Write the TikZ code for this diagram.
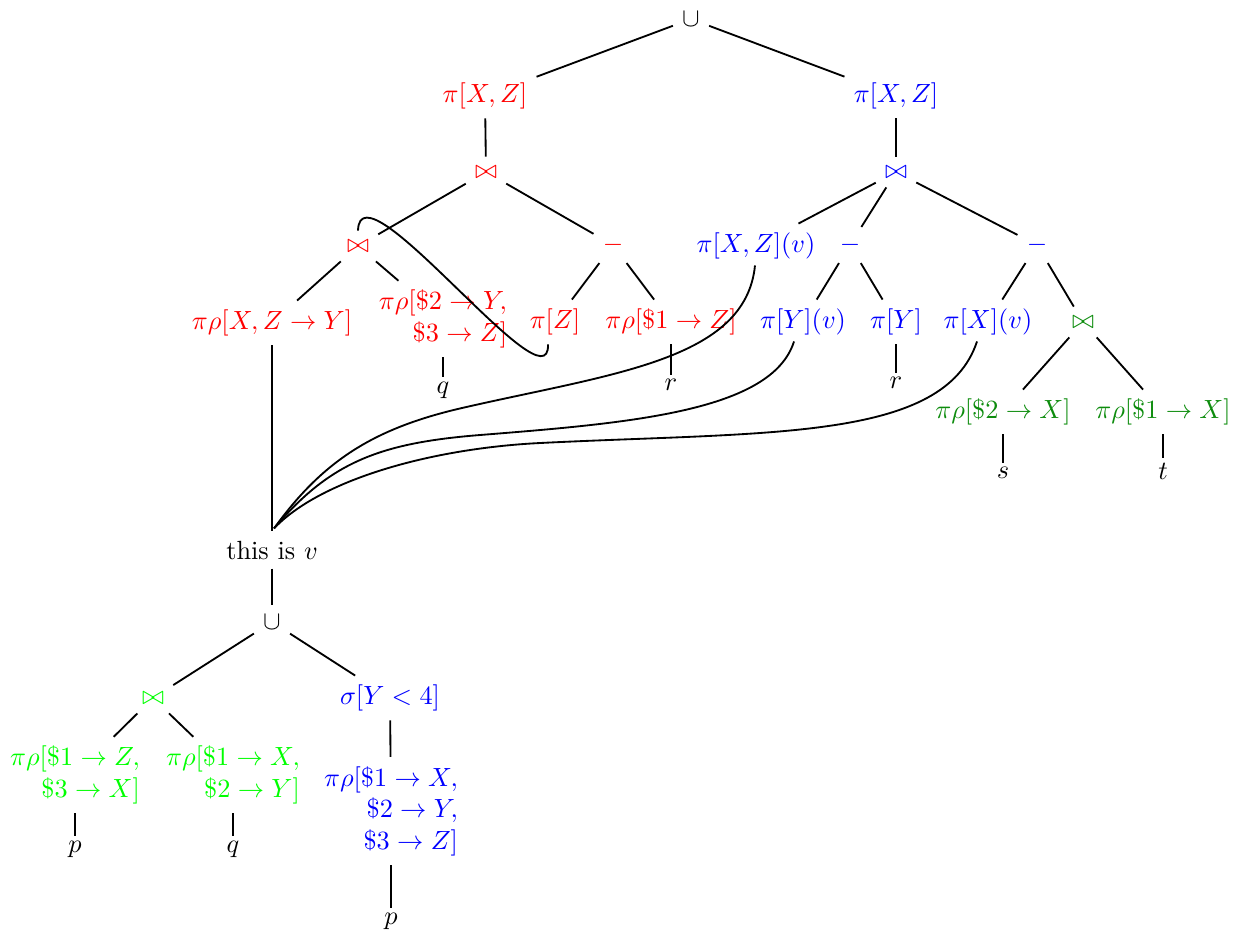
\documentclass[tikz,border=0pt]{standalone}
\usetikzlibrary{calc}
\definecolor{dkgreen}{rgb}{0.05,0.55,0.05}
\begin{document}
\begin{tikzpicture}[x=0.38pt,y=-0.38pt,
  edge/.style={line width=0.7pt},
  rd/.style={text=red}, bl/.style={text=blue}, gr/.style={text=green}, dg/.style={text=dkgreen},
  leaf/.style={inner ysep=1.5pt},
  multi/.style={align=right}]
\useasboundingbox (0,0) rectangle (1245,936);
% top tree
\node (U0) at (691,19) {$\cup$};
\node[rd] (A) at (485,96) {$\pi[X,Z]$};
\node[bl] (B) at (896,96) {$\pi[X,Z]$};
\node[rd] (A1) at (486,172) {$\bowtie$};
\node[bl] (B1) at (896,172) {$\bowtie$};
\node[rd] (A11) at (358,246) {$\bowtie$};
\node[rd] (A12) at (613,245) {$-$};
\node[bl] (B11) at (756,246) {$\pi[X,Z](v)$};
\node[bl] (B12) at (850,245) {$-$};
\node[bl] (B13) at (1037,245) {$-$};
\node[rd] (A111) at (272,323) {$\pi\rho[X,Z\rightarrow Y]$};
\node[rd,multi] (A112) at (443,319) {$\pi\rho[\$2\rightarrow Y,$\\$\$3\rightarrow Z]$};
\node[leaf] (q1) at (443,390) {$q$};
\node[rd] (A121) at (555,322) {$\pi[Z]$};
\node[rd] (A122) at (671,322) {$\pi\rho[\$1\rightarrow Z]$};
\node[leaf] (r1) at (671,385) {$r$};
\node[bl] (B121) at (803,322) {$\pi[Y](v)$};
\node[bl] (B122) at (896,322) {$\pi[Y]$};
\node[leaf] (r2) at (896,383) {$r$};
\node[bl] (B131) at (988,322) {$\pi[X](v)$};
\node[dg] (B132) at (1083,322) {$\bowtie$};
\node[dg] (B1321) at (1003,412) {$\pi\rho[\$2\rightarrow X]$};
\node[dg] (B1322) at (1163,412) {$\pi\rho[\$1\rightarrow X]$};
\node[leaf] (s) at (1003,473) {$s$};
\node[leaf] (t) at (1163,471) {$t$};
% bottom tree
\node (V) at (272,550) {this is $v$};
\node (U1) at (272,622) {$\cup$};
\node[gr] (C1) at (153,698) {$\bowtie$};
\node[bl] (C2) at (390,698) {$\sigma[Y<4]$};
\node[gr,multi] (C11) at (75,775) {$\pi\rho[\$1\rightarrow Z,$\\$\$3\rightarrow X]$};
\node[gr,multi] (C12) at (233,775) {$\pi\rho[\$1\rightarrow X,$\\$\$2\rightarrow Y]$};
\node[leaf] (p1) at (75,849) {$p$};
\node[leaf] (q2) at (233,849) {$q$};
\node[bl,multi] (C21) at (391,811) {$\pi\rho[\$1\rightarrow X,$\\$\$2\rightarrow Y,$\\$\$3\rightarrow Z]$};
\node[leaf] (p2) at (391,921) {$p$};
% edges
\draw[edge] (U0) -- (A);
\draw[edge] (U0) -- (B);
\draw[edge] (A) -- (A1);
\draw[edge] (B) -- (B1);
\draw[edge] (A1) -- (A11);
\draw[edge] (A1) -- (A12);
\draw[edge] (A11) -- (A111);
\draw[edge] (A11) -- (A112);
\draw[edge] (A12) -- (A121);
\draw[edge] (A12) -- (A122);
\draw[edge] (A112) -- (q1);
\draw[edge] (A122) -- (r1);
\draw[edge] (B1) -- (B11);
\draw[edge] (B1) -- (B12);
\draw[edge] (B1) -- (B13);
\draw[edge] (B12) -- (B121);
\draw[edge] (B12) -- (B122);
\draw[edge] (B122) -- (r2);
\draw[edge] (B13) -- (B131);
\draw[edge] (B13) -- (B132);
\draw[edge] (B132) -- (B1321);
\draw[edge] (B132) -- (B1322);
\draw[edge] (B1321) -- (s);
\draw[edge] (B1322) -- (t);
\draw[edge] (A111) -- (V);
\draw[edge] (V) -- (U1);
\draw[edge] (U1) -- (C1);
\draw[edge] (U1) -- (C2);
\draw[edge] (C1) -- (C11);
\draw[edge] (C1) -- (C12);
\draw[edge] (C11) -- (p1);
\draw[edge] (C12) -- (q2);
\draw[edge] (C2) -- (C21);
\draw[edge] (C21) -- (p2);
% curve end points
\coordinate (vin) at ($(V.north)+(2,-3)$);
\coordinate (s1) at ($(B11.south)+(-1,-3)$);
\coordinate (s2) at ($(B121.south)+(-9,-3)$);
\coordinate (s3) at ($(B131.south)+(-11,-3)$);
% curves
\draw[edge] (A11.north) .. controls +(2,-72) and +(2,68) .. ($(A121.south)+(-7,0)$);
\draw[edge] (s1) .. controls +(-9.5,95) and (612,373.5) .. (462,408)
   .. controls (372,428.7) and (322,462) .. (vin);
\draw[edge] (s2) .. controls +(-22,70) and (630,423) .. (480,435)
   .. controls (380,443) and (330,462) .. (vin);
\draw[edge] (s3) .. controls +(-33,100) and (770,431.5) .. (540,443)
   .. controls (430,448.5) and (320,480) .. (vin);
\end{tikzpicture}
\end{document}
